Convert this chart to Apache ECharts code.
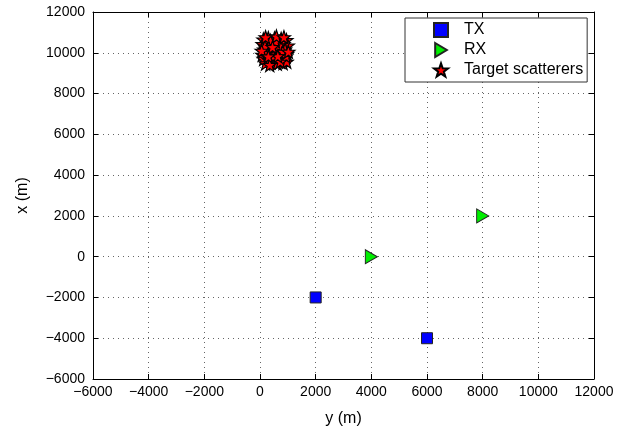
<!DOCTYPE html>
<html>
<head>
<meta charset="utf-8">
<script src="https://cdn.jsdelivr.net/npm/echarts@6/dist/echarts.min.js"></script>
<style>
  html, body { margin: 0; padding: 0; background: #fff; }
  #chart { width: 625px; height: 432px; }
</style>
</head>
<body>
<div id="chart"></div>
<script>
// [y (m), x (m)]
const txPoints = [[2000, -2000], [6000, -4000]];
const rxPoints = [[4000, 0], [8000, 2000]];
const targetPoints = [
  [120, 10650], [300, 10720], [520, 10700], [760, 10680], [950, 10620],
  [90, 10420], [260, 10460], [430, 10380], [640, 10500], [850, 10430], [1000, 10350],
  [150, 10150], [330, 10220], [560, 10100], [720, 10250], [900, 10160],
  [80, 9900], [240, 9960], [420, 9880], [600, 9980], [780, 9900], [980, 9950],
  [130, 9700], [310, 9650], [500, 9720], [690, 9660], [880, 9700],
  [200, 9480], [400, 9520], [620, 9470], [830, 9500], [960, 9560],
  [680, 10350], [470, 9820], [260, 10050], [820, 10050], [560, 10550],
  [380, 10580], [180, 10300], [940, 9820], [350, 9400], [730, 9560],
  [590, 10800], [200, 10760], [860, 10760], [60, 10100], [1020, 10050],
  [450, 10280], [640, 9830], [300, 9820]
];
const legendNames = ['TX', 'RX', 'Target scatterers'];

const starPath = 'path://M0,-10 L2.35,-3.24 L9.51,-3.09 L3.80,1.24 L5.88,8.09 L0,4 L-5.88,8.09 L-3.80,1.24 L-9.51,-3.09 L-2.35,-3.24 Z';
const triPath = 'path://M0,0 L10,6 L0,12 Z';
const font = 'Liberation Sans, Arial, sans-serif';
const fmt = v => String(v).replace('-', '\u2212');

const chart = echarts.init(document.getElementById('chart'));

const gridLine = { show: true, lineStyle: { color: '#666', type: [1, 4], width: 1 } };
const tickIn = { inside: true, length: 5, lineStyle: { color: '#000' } };
const axLine = { show: true, onZero: false, lineStyle: { color: '#000', width: 1 } };

chart.setOption({
  animation: false,
  grid: { left: 93, right: 31, top: 12, bottom: 49 },
  legend: {
    orient: 'vertical',
    left: 405,
    top: 18,
    data: legendNames,
    itemWidth: 14,
    itemHeight: 14,
    itemGap: 4,
    padding: [4, 4, 4, 28],
    borderColor: '#333',
    borderWidth: 1,
    backgroundColor: '#fff',
    textStyle: { fontFamily: font, fontSize: 16, lineHeight: 16, color: '#000', padding: [0, 0, 0, 11] }
  },
  xAxis: [{
    type: 'value', min: -6000, max: 12000, interval: 2000,
    name: 'y (m)', nameLocation: 'middle', nameGap: 32,
    nameTextStyle: { fontFamily: font, fontSize: 16, color: '#000' },
    axisLine: axLine, axisTick: tickIn, splitLine: gridLine,
    axisLabel: { fontFamily: font, fontSize: 14, color: '#000', margin: 6, formatter: fmt }
  }, {
    type: 'value', min: -6000, max: 12000, interval: 2000, position: 'top',
    axisLine: axLine, axisTick: tickIn, splitLine: { show: false }, axisLabel: { show: false }
  }],
  yAxis: [{
    type: 'value', min: -6000, max: 12000, interval: 2000,
    name: 'x (m)', nameLocation: 'middle', nameGap: 62, nameRotate: 90,
    nameTextStyle: { fontFamily: font, fontSize: 16, color: '#000' },
    axisLine: axLine, axisTick: tickIn, splitLine: gridLine,
    axisLabel: { fontFamily: font, fontSize: 14, color: '#000', margin: 8, formatter: fmt }
  }, {
    type: 'value', min: -6000, max: 12000, interval: 2000, position: 'right',
    axisLine: axLine, axisTick: tickIn, splitLine: { show: false }, axisLabel: { show: false }
  }],
  series: [{
    name: 'TX', type: 'scatter', data: txPoints,
    symbol: 'rect', symbolSize: 11,
    itemStyle: { color: '#0000ff', borderColor: '#222', borderWidth: 1, opacity: 1 }
  }, {
    name: 'RX', type: 'scatter', data: rxPoints,
    symbol: triPath, symbolSize: [12, 14],
    itemStyle: { color: '#00ee00', borderColor: '#222', borderWidth: 1, opacity: 1 }
  }, {
    name: 'Target scatterers', type: 'scatter', data: targetPoints,
    symbol: starPath, symbolSize: 13,
    itemStyle: { color: '#ff0000', borderColor: '#000', borderWidth: 1.2, opacity: 1 }
  }]
});
</script>
</body>
</html>
